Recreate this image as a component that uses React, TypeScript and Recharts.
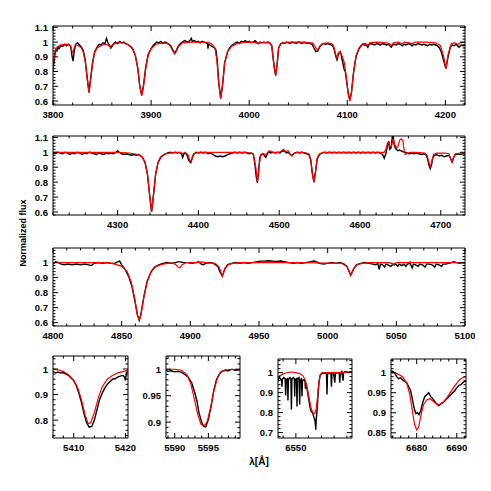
import { LineChart, Line, XAxis, YAxis } from 'recharts';

type Pt = [number, number];

// observed (black) and model (red) spectra, [wavelength, normalized flux]
const P1_OBS: Pt[] = [
  [3800, 0.83], [3801, 0.86], [3802, 0.92], [3803, 0.95], [3804, 0.94], [3805, 0.965], [3806, 0.955], [3808, 0.975],
  [3810, 0.97], [3812, 0.985], [3814, 0.975], [3816, 0.985], [3818, 0.97], [3819.5, 0.9], [3820.4, 0.87], [3821.5, 0.93],
  [3823, 0.985], [3825, 0.995], [3827, 0.98], [3829, 0.965], [3831, 0.94], [3833, 0.87], [3835, 0.75], [3836.7, 0.66],
  [3838.3, 0.75], [3840.5, 0.87], [3842.5, 0.935], [3845, 0.965], [3847, 0.985], [3849, 0.98], [3851, 0.995], [3853, 0.99],
  [3854.5, 1.025], [3856, 0.995], [3858, 0.975], [3859, 0.96], [3860.5, 0.975], [3862, 0.99], [3864, 1.0], [3866, 0.99],
  [3868, 1.005], [3870, 0.995], [3872, 1.0], [3874, 0.99], [3876, 0.985], [3878, 0.975], [3880, 0.965], [3882, 0.945],
  [3884, 0.905], [3886.5, 0.82], [3888.5, 0.7], [3890.4, 0.64], [3892.3, 0.71], [3894.5, 0.83], [3897, 0.915], [3900, 0.955],
  [3902, 0.975], [3904, 0.99], [3906, 1.0], [3908, 0.995], [3910, 1.005], [3912, 0.99], [3914, 1.0], [3916, 0.995],
  [3918, 0.985], [3920, 0.975], [3922.5, 0.94], [3924, 0.925], [3925.5, 0.94], [3928, 0.975], [3930, 0.99], [3932, 1.0],
  [3934, 1.01], [3936, 1.005], [3938, 1.0], [3940, 1.015], [3941, 1.025], [3942, 1.005], [3944, 1.01], [3946, 1.0],
  [3948, 1.005], [3950, 0.995], [3952, 1.005], [3954, 1.0], [3956, 0.995], [3957.5, 0.99], [3958, 0.955], [3958.5, 0.985],
  [3960, 0.98], [3962, 0.97], [3964, 0.965], [3966, 0.95], [3967.5, 0.87], [3969, 0.72], [3971, 0.62], [3973, 0.72],
  [3975, 0.86], [3978, 0.935], [3980, 0.96], [3982, 0.975], [3984, 0.985], [3986, 0.995], [3988, 1.0], [3990, 0.99],
  [3992, 1.005], [3994, 1.0], [3996, 1.01], [3998, 1.0], [4000, 1.005], [4002, 0.995], [4004, 1.0], [4006, 1.01],
  [4008, 0.995], [4009.5, 0.99], [4011, 1.0], [4013, 0.995], [4015, 1.0], [4017, 0.995], [4019, 1.0], [4021, 0.995],
  [4023, 0.975], [4025.5, 0.83], [4027, 0.775], [4028.5, 0.85], [4030, 0.96], [4032, 0.985], [4034, 0.995], [4036, 0.99],
  [4038, 1.0], [4040, 0.995], [4042, 0.99], [4044, 1.0], [4046, 0.995], [4048, 0.99], [4050, 1.0], [4052, 0.995],
  [4054, 0.99], [4056, 1.0], [4058, 0.99], [4060, 0.995], [4062, 0.99], [4064, 0.985], [4066, 0.96], [4068, 0.935],
  [4070, 0.94], [4072, 0.97], [4074, 0.985], [4076, 0.99], [4078, 0.985], [4080, 0.99], [4082, 0.985], [4084, 0.98],
  [4086, 0.965], [4088, 0.91], [4089.5, 0.88], [4091, 0.92], [4093, 0.935], [4095, 0.87], [4097, 0.81], [4098, 0.8],
  [4099, 0.75], [4101, 0.65], [4102.6, 0.605], [4104.3, 0.66], [4106.5, 0.8], [4109, 0.905], [4112, 0.955], [4114, 0.975],
  [4116, 0.985], [4118, 0.98], [4120, 0.975], [4121, 0.965], [4122, 0.98], [4124, 0.99], [4126, 0.985], [4128, 0.98],
  [4130, 0.99], [4132, 0.985], [4134, 0.98], [4136, 0.99], [4138, 0.985], [4140, 0.98], [4142, 0.985], [4144, 0.97],
  [4145, 0.965], [4146, 0.98], [4148, 0.985], [4150, 0.98], [4152, 0.99], [4154, 0.985], [4156, 0.975], [4158, 0.985],
  [4160, 0.98], [4162, 0.99], [4164, 0.985], [4166, 0.975], [4168, 0.985], [4170, 0.98], [4172, 0.99], [4174, 0.985],
  [4176, 0.98], [4178, 0.985], [4180, 0.98], [4182, 0.975], [4184, 0.985], [4186, 0.98], [4188, 0.985], [4190, 0.98],
  [4192, 0.975], [4194, 0.96], [4196, 0.93], [4198, 0.88], [4200.5, 0.82], [4203, 0.91], [4205, 0.965], [4207, 0.98],
  [4209, 0.975], [4211, 0.985], [4213, 0.97], [4214, 0.965], [4216, 0.98], [4218, 0.975], [4220, 0.98],
];

const P1_MOD: Pt[] = [
  [3800, 0.8], [3801, 0.88], [3802, 0.93], [3804, 0.965], [3807, 0.98], [3812, 0.985], [3816, 0.985], [3818, 0.975],
  [3819.5, 0.935], [3820.5, 0.925], [3821.5, 0.96], [3823, 0.98], [3826, 0.975], [3829, 0.96], [3831, 0.93], [3833, 0.86],
  [3835, 0.74], [3836.7, 0.655], [3838.3, 0.74], [3840.5, 0.86], [3842.5, 0.93], [3845, 0.96], [3849, 0.975], [3853, 0.985],
  [3856, 0.98], [3858.5, 0.965], [3861, 0.985], [3866, 0.995], [3872, 0.995], [3877, 0.98], [3881, 0.955], [3884, 0.91],
  [3886.5, 0.82], [3888.5, 0.7], [3890.4, 0.635], [3892.3, 0.7], [3894.5, 0.82], [3897, 0.91], [3900, 0.955], [3905, 0.985],
  [3912, 0.995], [3917, 0.99], [3920, 0.97], [3922.5, 0.935], [3924, 0.92], [3925.5, 0.935], [3928, 0.97], [3932, 0.995],
  [3940, 1.0], [3950, 1.0], [3958, 0.998], [3961, 0.99], [3963, 0.978], [3965, 0.96], [3967, 0.88], [3969, 0.72],
  [3971, 0.615], [3973, 0.72], [3975, 0.86], [3978, 0.935], [3982, 0.97], [3988, 0.99], [3995, 0.998], [4003, 1.0],
  [4007, 0.995], [4009, 0.988], [4011, 0.995], [4020, 0.998], [4023, 0.975], [4025.5, 0.83], [4027, 0.77], [4028.5, 0.85],
  [4030, 0.96], [4032, 0.99], [4040, 1.0], [4055, 1.0], [4065, 0.993], [4068, 0.96], [4070, 0.945], [4072, 0.97],
  [4075, 0.99], [4080, 0.995], [4084, 0.99], [4086, 0.975], [4088, 0.92], [4089.5, 0.89], [4091, 0.93], [4093, 0.93],
  [4095, 0.9], [4097, 0.86], [4099, 0.76], [4101, 0.65], [4102.6, 0.6], [4104.3, 0.66], [4106.5, 0.8], [4109, 0.91],
  [4112, 0.96], [4116, 0.99], [4119, 0.99], [4121, 0.978], [4123, 0.995], [4130, 1.0], [4140, 0.995], [4143, 0.988],
  [4145, 0.978], [4147, 0.995], [4152, 1.0], [4156, 0.988], [4158, 1.0], [4163, 0.995], [4166, 0.988], [4169, 1.0],
  [4180, 1.0], [4190, 0.995], [4195, 0.975], [4198, 0.91], [4200.5, 0.82], [4203, 0.92], [4206, 0.99], [4210, 0.995],
  [4213, 0.982], [4215, 0.995], [4220, 1.0],
];

const P2_OBS: Pt[] = [
  [4220, 0.995], [4223, 0.99], [4226, 1.0], [4229, 0.995], [4232, 0.99], [4235, 1.0], [4238, 0.995], [4241, 0.985],
  [4244, 0.995], [4247, 0.99], [4250, 1.0], [4253, 0.995], [4256, 0.985], [4259, 0.995], [4262, 0.99], [4265, 1.0],
  [4268, 0.995], [4271, 0.99], [4274, 0.985], [4277, 0.995], [4280, 0.99], [4283, 0.985], [4286, 0.995], [4289, 0.99],
  [4292, 0.995], [4295, 0.99], [4298, 1.0], [4300, 1.01], [4302, 1.0], [4305, 0.99], [4308, 0.985], [4311, 0.99],
  [4314, 0.985], [4317, 0.98], [4320, 0.985], [4323, 0.98], [4326, 0.985], [4329, 0.975], [4331, 0.965], [4334, 0.93],
  [4337, 0.85], [4339.5, 0.72], [4342, 0.6], [4344.5, 0.72], [4347, 0.85], [4350, 0.93], [4353, 0.965], [4356, 0.98],
  [4359, 0.99], [4362, 0.995], [4365, 1.0], [4368, 0.995], [4371, 1.0], [4374, 0.995], [4377, 1.0], [4379, 0.99],
  [4380.5, 0.965], [4382, 0.99], [4384, 0.995], [4386, 0.98], [4388, 0.945], [4390.5, 0.93], [4392, 0.955], [4394, 0.985],
  [4397, 1.0], [4400, 0.995], [4403, 1.0], [4406, 0.995], [4409, 1.0], [4412, 0.99], [4415, 0.995], [4418, 0.985],
  [4421, 0.975], [4424, 0.97], [4427, 0.975], [4430, 0.97], [4433, 0.975], [4436, 0.985], [4439, 0.99], [4442, 0.995],
  [4445, 1.0], [4448, 0.995], [4451, 1.0], [4454, 0.995], [4457, 1.0], [4460, 0.995], [4463, 0.99], [4466, 0.995],
  [4468, 0.985], [4470, 0.92], [4471.5, 0.84], [4473, 0.795], [4474.5, 0.87], [4476, 0.965], [4478, 0.985], [4480, 0.99],
  [4482, 0.975], [4483.5, 0.965], [4485, 0.985], [4487, 1.005], [4489, 0.995], [4492, 1.0], [4495, 0.995], [4498, 1.0],
  [4501, 0.995], [4503, 1.005], [4505, 1.01], [4507, 1.005], [4509, 0.995], [4511, 1.0], [4513, 0.99], [4515, 0.98],
  [4517, 0.985], [4519, 0.995], [4522, 1.0], [4525, 0.995], [4528, 1.0], [4531, 0.995], [4534, 0.99], [4537, 0.985],
  [4539, 0.95], [4541, 0.86], [4543, 0.8], [4545, 0.87], [4547, 0.955], [4550, 0.985], [4553, 0.995], [4556, 1.0],
  [4559, 0.995], [4562, 1.0], [4565, 0.995], [4568, 1.0], [4571, 0.995], [4574, 1.0], [4577, 0.995], [4580, 1.0],
  [4583, 0.995], [4586, 1.0], [4589, 0.995], [4592, 1.0], [4595, 0.995], [4598, 1.0], [4601, 0.995], [4604, 1.0],
  [4607, 0.995], [4610, 1.0], [4613, 0.995], [4616, 1.0], [4619, 0.995], [4622, 1.0], [4625, 0.995], [4628, 0.985],
  [4630, 0.96], [4632, 0.99], [4634, 1.04], [4635.5, 1.075], [4637, 1.02], [4638.5, 1.03], [4640, 1.1], [4641, 1.12],
  [4642, 1.06], [4643.5, 1.03], [4645, 1.02], [4647, 1.01], [4649, 1.015], [4651, 1.01], [4653, 1.005], [4655, 1.0],
  [4658, 0.995], [4661, 0.99], [4664, 0.995], [4667, 0.99], [4670, 0.995], [4673, 0.99], [4676, 0.985], [4679, 0.99],
  [4682, 0.98], [4684, 0.95], [4685.5, 0.91], [4687, 0.89], [4688.5, 0.915], [4690, 0.96], [4692, 0.98], [4695, 0.985],
  [4698, 0.975], [4701, 0.98], [4704, 0.97], [4707, 0.975], [4710, 0.98], [4712, 0.96], [4714, 0.935], [4716, 0.965],
  [4718, 0.985], [4721, 0.99], [4724, 0.985], [4727, 0.99], [4730, 0.99],
];

const P2_MOD: Pt[] = [
  [4220, 1.0], [4260, 1.0], [4300, 1.0], [4315, 0.995], [4325, 0.985], [4330, 0.97], [4334, 0.93], [4337, 0.85],
  [4339.5, 0.72], [4342, 0.6], [4344.5, 0.72], [4347, 0.85], [4350, 0.93], [4354, 0.97], [4360, 0.99], [4368, 0.998],
  [4375, 1.0], [4379, 0.995], [4381, 0.99], [4383, 1.0], [4387, 0.985], [4389, 0.95], [4390.5, 0.94], [4392, 0.96],
  [4394, 0.99], [4400, 1.0], [4420, 1.0], [4440, 1.0], [4460, 1.0], [4468, 0.99], [4471, 0.9], [4473, 0.8],
  [4475, 0.9], [4477, 0.985], [4481, 0.99], [4483, 0.98], [4485, 0.995], [4488, 1.01], [4492, 1.0], [4500, 1.0],
  [4503, 1.01], [4505, 1.02], [4508, 1.005], [4511, 1.01], [4514, 0.985], [4516, 0.975], [4518, 0.99], [4522, 1.0],
  [4530, 1.0], [4536, 0.99], [4539, 0.95], [4541, 0.86], [4543, 0.8], [4545, 0.87], [4547, 0.96], [4550, 0.99],
  [4555, 1.0], [4600, 1.0], [4625, 1.0], [4630, 1.0], [4632, 1.02], [4634, 1.06], [4635.5, 1.07], [4637, 1.04],
  [4639, 1.04], [4641, 1.09], [4643, 1.05], [4645, 1.03], [4647, 1.04], [4649, 1.08], [4651, 1.09], [4653, 1.08],
  [4654.5, 1.02], [4656, 0.985], [4658, 0.99], [4662, 1.0], [4670, 1.0], [4680, 0.995], [4683, 0.98], [4685, 0.94],
  [4687, 0.9], [4689, 0.94], [4691, 0.985], [4695, 0.995], [4705, 0.995], [4710, 0.99], [4712, 0.96], [4714, 0.935],
  [4716, 0.965], [4718, 0.99], [4725, 0.995], [4730, 0.995],
];

const P3_OBS: Pt[] = [
  [4800, 0.99], [4802, 1.005], [4804, 1.0], [4806, 0.99], [4808, 0.985], [4811, 0.99], [4814, 0.985], [4817, 0.99],
  [4820, 0.985], [4823, 0.99], [4826, 0.985], [4828, 0.98], [4830, 0.995], [4833, 1.0], [4836, 0.995], [4839, 1.0],
  [4842, 0.995], [4845, 0.995], [4847, 1.005], [4848.5, 1.01], [4850, 0.985], [4852.5, 0.955], [4855, 0.91], [4857.5, 0.84],
  [4859.5, 0.75], [4861.5, 0.65], [4862.8, 0.615], [4864, 0.655], [4866, 0.765], [4868.5, 0.875], [4871.5, 0.94], [4874, 0.97],
  [4877, 0.985], [4880, 0.995], [4883, 1.0], [4886, 0.995], [4889, 1.0], [4891, 1.005], [4893, 1.005], [4895, 1.0],
  [4898, 1.0], [4901, 0.995], [4904, 1.0], [4906, 1.005], [4908, 0.99], [4909.5, 0.985], [4911, 0.995], [4914, 1.0],
  [4917, 0.995], [4920, 0.975], [4921.5, 0.94], [4923.3, 0.91], [4925, 0.955], [4927, 0.985], [4930, 0.995], [4933, 1.0],
  [4936, 0.995], [4939, 1.0], [4942, 0.995], [4945, 1.0], [4948, 1.005], [4951, 1.01], [4954, 1.01], [4957, 1.012],
  [4960, 1.01], [4963, 1.008], [4966, 1.01], [4969, 1.005], [4972, 1.0], [4975, 0.995], [4978, 1.0], [4981, 0.995],
  [4984, 1.0], [4987, 1.005], [4990, 1.01], [4992, 1.005], [4994, 0.995], [4997, 0.99], [5000, 0.995], [5003, 1.0],
  [5006, 0.995], [5009, 1.0], [5012, 0.99], [5014, 0.975], [5016.8, 0.915], [5019, 0.96], [5021, 0.985], [5024, 0.995],
  [5027, 1.0], [5030, 0.995], [5033, 0.99], [5035, 0.985], [5036.5, 0.995], [5037.5, 0.955], [5038.5, 0.99], [5040, 0.985],
  [5041.5, 0.97], [5042.5, 0.99], [5044, 0.985], [5046, 0.975], [5047, 0.985], [5048.5, 0.985], [5049.5, 0.99], [5051, 0.975],
  [5052, 0.99], [5054, 0.98], [5055.5, 0.99], [5057, 0.975], [5058, 0.99], [5060, 0.995], [5061.5, 0.965], [5062.5, 0.99],
  [5064, 0.985], [5066, 0.975], [5067, 0.99], [5069, 0.985], [5071, 0.97], [5072, 0.99], [5074, 0.99], [5076, 0.985],
  [5078, 0.97], [5079, 0.99], [5081, 0.985], [5083, 0.975], [5084, 0.99], [5086, 0.99], [5088, 0.995], [5090, 1.0],
  [5092, 1.005], [5094, 1.0], [5096, 0.995], [5098, 1.0], [5100, 0.995],
];

const P3_MOD: Pt[] = [
  [4800, 1.0], [4840, 1.0], [4845, 0.99], [4850, 0.975], [4854, 0.94], [4857, 0.87], [4859.5, 0.76], [4861.5, 0.65],
  [4862.8, 0.615], [4864, 0.65], [4866, 0.76], [4868.5, 0.87], [4871.5, 0.94], [4875, 0.975], [4880, 0.99], [4886, 0.998],
  [4889, 0.99], [4891, 0.97], [4892.5, 0.965], [4894, 0.985], [4897, 1.0], [4905, 1.0], [4908, 1.005], [4911, 1.0],
  [4918, 0.995], [4921, 0.97], [4923.3, 0.91], [4925.5, 0.965], [4928, 0.99], [4935, 1.0], [4980, 1.0], [5010, 0.995],
  [5014, 0.975], [5016.8, 0.915], [5019, 0.96], [5022, 0.99], [5030, 1.0], [5045, 1.0], [5048, 0.99], [5050, 1.0],
  [5058, 1.0], [5060, 1.005], [5062, 1.0], [5100, 1.0],
];

// HeII 5411
const A_OBS: Pt[] = [
  [5406, 0.99], [5406.5, 0.985], [5407, 0.988], [5407.5, 0.984], [5408, 0.986], [5408.5, 0.98], [5409, 0.975], [5409.5, 0.965],
  [5410, 0.955], [5410.5, 0.935], [5411, 0.905], [5411.5, 0.87], [5412, 0.825], [5412.5, 0.79], [5413, 0.772], [5413.5, 0.775],
  [5414, 0.8], [5414.5, 0.84], [5415, 0.88], [5415.5, 0.905], [5416, 0.925], [5416.5, 0.94], [5417, 0.95], [5417.5, 0.96],
  [5418, 0.962], [5418.5, 0.968], [5419, 0.972], [5419.5, 0.975], [5419.8, 0.97], [5420, 0.955], [5420.2, 0.985], [5420.5, 0.995],
];
const A_MOD: Pt[] = [
  [5406, 1.0], [5407, 0.997], [5408, 0.99], [5409, 0.978], [5410, 0.955], [5410.8, 0.925], [5411.5, 0.88], [5412.2, 0.82],
  [5412.8, 0.786], [5413.3, 0.79], [5414, 0.83], [5414.8, 0.89], [5415.5, 0.93], [5416.5, 0.96], [5417.5, 0.975], [5418.5, 0.985],
  [5419.5, 0.99], [5420.5, 0.995],
];

// OIII 5592
const B_OBS: Pt[] = [
  [5588.7, 0.998], [5589, 0.996], [5589.5, 0.997], [5590, 0.995], [5590.5, 0.996], [5591, 0.994], [5591.5, 0.99], [5592, 0.985],
  [5592.5, 0.975], [5593, 0.955], [5593.3, 0.94], [5593.6, 0.918], [5594, 0.9], [5594.3, 0.892], [5594.6, 0.891], [5595, 0.905],
  [5595.4, 0.93], [5595.8, 0.96], [5596.2, 0.98], [5596.6, 0.99], [5597, 0.996], [5597.5, 0.998], [5598, 0.997], [5598.5, 1.0],
  [5599, 0.998], [5599.7, 0.999],
];
const B_MOD: Pt[] = [
  [5588.7, 1.0], [5590, 1.0], [5591, 0.998], [5591.8, 0.99], [5592.4, 0.972], [5592.9, 0.945], [5593.4, 0.915], [5593.9, 0.896],
  [5594.3, 0.892], [5594.8, 0.9], [5595.3, 0.925], [5595.8, 0.958], [5596.3, 0.982], [5596.8, 0.995], [5597.5, 0.999], [5599.7, 1.0],
];

// H alpha with telluric lines
const C_OBS: Pt[] = [
  [6536, 0.965], [6537, 0.975], [6538, 0.97], [6538.8, 0.96], [6539.1, 0.93], [6539.4, 0.965], [6540.5, 0.975], [6541.6, 0.97],
  [6542, 0.885], [6542.4, 0.965], [6543.4, 0.97], [6543.8, 0.86], [6544.2, 0.965], [6545.3, 0.975], [6546.1, 0.97], [6546.5, 0.815],
  [6546.9, 0.965], [6548, 0.975], [6548.8, 0.97], [6549.1, 0.88], [6549.4, 0.965], [6550.5, 0.97], [6550.9, 0.83], [6551.3, 0.97],
  [6552.5, 0.975], [6553, 0.84], [6553.4, 0.965], [6554.4, 0.97], [6554.8, 0.88], [6555.2, 0.96], [6556.5, 0.965], [6557.2, 0.955],
  [6557.5, 0.92], [6557.9, 0.95], [6559, 0.91], [6560, 0.87], [6561, 0.83], [6562, 0.805], [6563, 0.8], [6563.8, 0.785],
  [6564.5, 0.77], [6565, 0.76], [6565.4, 0.735], [6565.6, 0.715], [6565.9, 0.76], [6566.5, 0.8], [6567, 0.85], [6567.6, 0.91],
  [6568.2, 0.955], [6569, 0.985], [6570, 0.995], [6571, 1.0], [6572, 0.995], [6573, 1.0], [6574, 0.995], [6574.4, 0.89],
  [6574.8, 0.99], [6576, 1.0], [6577.5, 0.995], [6577.9, 0.93], [6578.3, 0.995], [6579.5, 1.0], [6580.5, 0.95], [6581, 0.995],
  [6582.5, 1.0], [6584, 0.998], [6584.4, 0.95], [6584.8, 0.995], [6586, 1.005], [6587, 0.96], [6587.4, 1.0], [6589, 1.005],
  [6591, 1.0], [6592.5, 1.005], [6594, 1.005],
];
const C_MOD: Pt[] = [
  [6536, 0.98], [6539, 0.99], [6542, 0.998], [6546, 1.003], [6550, 1.0], [6553, 0.995], [6555.5, 0.985], [6557.5, 0.96],
  [6559, 0.92], [6560.5, 0.87], [6562, 0.82], [6563.3, 0.8], [6564.8, 0.795], [6566, 0.82], [6567, 0.88], [6568, 0.95],
  [6569, 0.985], [6570.5, 0.998], [6574, 1.0], [6580, 1.0], [6594, 1.002],
];

// HeI 6678 + HeII 6683
const D_OBS: Pt[] = [
  [6673.6, 1.005], [6674, 1.003], [6674.5, 1.0], [6675, 0.99], [6675.5, 0.985], [6676, 0.987], [6676.5, 0.982], [6677, 0.978],
  [6677.5, 0.975], [6678, 0.965], [6678.5, 0.955], [6679, 0.93], [6679.4, 0.91], [6679.8, 0.898], [6680.2, 0.9], [6680.6, 0.895],
  [6681, 0.905], [6681.5, 0.925], [6682, 0.94], [6682.5, 0.945], [6683, 0.95], [6683.5, 0.94], [6684, 0.935], [6684.5, 0.928],
  [6685, 0.922], [6685.5, 0.918], [6686, 0.922], [6686.5, 0.925], [6687, 0.93], [6687.5, 0.935], [6688, 0.94], [6688.5, 0.945],
  [6689, 0.95], [6689.5, 0.955], [6690, 0.962], [6690.5, 0.968], [6691, 0.97], [6691.5, 0.975], [6692, 0.978], [6692.3, 0.98],
];
const D_MOD: Pt[] = [
  [6673.6, 1.0], [6675, 0.998], [6676.5, 0.99], [6677.5, 0.975], [6678.3, 0.945], [6679, 0.9], [6679.5, 0.87], [6680, 0.857],
  [6680.5, 0.865], [6681, 0.89], [6681.7, 0.92], [6682.5, 0.932], [6683.3, 0.935], [6684.2, 0.928], [6685, 0.921], [6685.6, 0.92],
  [6686.5, 0.925], [6687.5, 0.937], [6688.5, 0.952], [6689.5, 0.967], [6690.5, 0.98], [6691.5, 0.988], [6692.3, 0.99],
];

const FONT = '"Liberation Sans", Arial, Helvetica, sans-serif';
// plot area offsets inside each chart svg
const ML = 50, MR = 10, MT = 6, MB = 22;

const toRows = (pts: Pt[]) => pts.map(([w, f]) => ({ w, f }));

// major + minor tick values inside [lo, hi]
function tickValues(lo: number, hi: number, step: number) {
  const out: number[] = [];
  for (let k = Math.ceil(lo / step - 1e-9); k * step <= hi + 1e-9; k++) out.push(+(k * step).toFixed(5));
  return out;
}
const isMajor = (v: number, step: number) => Math.abs(v / step - Math.round(v / step)) < 1e-6;
const fmt = (v: number) => String(+v.toFixed(3));

function makeTick(side: 'bottom' | 'top' | 'left' | 'right', major: number, label: boolean) {
  return (p: any) => {
    const { x, y, payload } = p;
    const v = payload.value;
    const big = isMajor(v, major);
    const len = big ? 5 : 2.5;
    let ln;
    if (side === 'bottom') ln = <line x1={x} y1={y} x2={x} y2={y - len} stroke="#000" strokeWidth={1} />;
    else if (side === 'top') ln = <line x1={x} y1={y} x2={x} y2={y + len} stroke="#000" strokeWidth={1} />;
    else if (side === 'left') ln = <line x1={x} y1={y} x2={x + len} y2={y} stroke="#000" strokeWidth={1} />;
    else ln = <line x1={x} y1={y} x2={x - len} y2={y} stroke="#000" strokeWidth={1} />;
    let txt = null;
    if (label && big) {
      txt = side === 'bottom'
        ? <text x={x} y={y + 12.5} textAnchor="middle" fontSize={9.5} fontWeight="bold" fontFamily={FONT} fill="#000">{fmt(v)}</text>
        : <text x={x - 5} y={y + 3.5} textAnchor="end" fontSize={9.5} fontWeight="bold" fontFamily={FONT} fill="#000">{fmt(v)}</text>;
    }
    return <g>{ln}{txt}</g>;
  };
}

interface PanelProps {
  left: number; top: number; w: number; h: number;
  xd: [number, number]; yd: [number, number];
  xs: [number, number]; ys: [number, number];
  obs: Pt[]; mod: Pt[];
}

function Panel({ left, top, w, h, xd, yd, xs, ys, obs, mod }: PanelProps) {
  const xt = tickValues(xd[0], xd[1], xs[1]);
  const yt = tickValues(yd[0], yd[1], ys[1]);
  const ax = { stroke: '#000', strokeWidth: 1 };
  return (
    <div style={{ position: 'absolute', left: left - ML, top: top - MT }}>
      <LineChart width={w + ML + MR} height={h + MT + MB} margin={{ top: MT - 1, right: MR - 1, bottom: 0, left: 5 }}
        style={{ overflow: 'visible' }}>
        <XAxis xAxisId="b" dataKey="w" type="number" domain={xd} allowDataOverflow ticks={xt} interval={0}
          height={MB} tickSize={0} tickMargin={0} tickLine={false} axisLine={ax} tick={makeTick('bottom', xs[0], true)} />
        <XAxis xAxisId="t" orientation="top" dataKey="w" type="number" domain={xd} allowDataOverflow ticks={xt} interval={0}
          height={1} tickSize={0} tickMargin={0} tickLine={false} axisLine={ax} tick={makeTick('top', xs[0], false)} />
        <YAxis yAxisId="l" type="number" domain={yd} allowDataOverflow ticks={yt} interval={0}
          width={ML - 5} tickSize={0} tickMargin={0} tickLine={false} axisLine={ax} tick={makeTick('left', ys[0], true)} />
        <YAxis yAxisId="r" orientation="right" type="number" domain={yd} allowDataOverflow ticks={yt} interval={0}
          width={1} tickSize={0} tickMargin={0} tickLine={false} axisLine={ax} tick={makeTick('right', ys[0], false)} />
        <Line xAxisId="b" yAxisId="l" data={toRows(obs)} dataKey="f" type="linear" stroke="#000" strokeWidth={1.4}
          dot={false} isAnimationActive={false} />
        <Line xAxisId="b" yAxisId="l" data={toRows(mod)} dataKey="f" type="linear" stroke="#ff0000" strokeWidth={1.2}
          dot={false} isAnimationActive={false} />
      </LineChart>
    </div>
  );
}

export default function App() {
  return (
    <div style={{ position: 'absolute', left: 0, top: 0, width: 491, height: 491, background: '#fff', overflow: 'hidden' }}>
      <Panel left={53} top={26} w={412} h={79} xd={[3800, 4220]} yd={[0.573, 1.109]} xs={[100, 20]} ys={[0.1, 0.02]} obs={P1_OBS} mod={P1_MOD} />
      <Panel left={53} top={136} w={412} h={79} xd={[4220, 4730]} yd={[0.58, 1.109]} xs={[100, 20]} ys={[0.1, 0.02]} obs={P2_OBS} mod={P2_MOD} />
      <Panel left={53} top={248} w={412} h={78} xd={[4800, 5100]} yd={[0.578, 1.097]} xs={[50, 10]} ys={[0.1, 0.02]} obs={P3_OBS} mod={P3_MOD} />
      <Panel left={53} top={356} w={75} h={82} xd={[5406, 5420.5]} yd={[0.73, 1.051]} xs={[10, 2]} ys={[0.1, 0.02]} obs={A_OBS} mod={A_MOD} />
      <Panel left={166} top={356} w={74} h={82} xd={[5588.7, 5599.7]} yd={[0.87, 1.025]} xs={[5, 1]} ys={[0.05, 0.01]} obs={B_OBS} mod={B_MOD} />
      <Panel left={278} top={359} w={74} h={79} xd={[6536, 6594]} yd={[0.673, 1.068]} xs={[50, 10]} ys={[0.1, 0.02]} obs={C_OBS} mod={C_MOD} />
      <Panel left={391} top={359} w={75} h={79} xd={[6673.6, 6692.3]} yd={[0.837, 1.034]} xs={[10, 2]} ys={[0.05, 0.01]} obs={D_OBS} mod={D_MOD} />
      <div style={{ position: 'absolute', left: 23, top: 233, transform: 'translate(-50%, -50%) rotate(-90deg)', whiteSpace: 'nowrap',
        fontFamily: FONT, fontWeight: 'bold', fontSize: 9, color: '#000' }}>Normalized flux</div>
      <div style={{ position: 'absolute', left: 259, top: 461, transform: 'translate(-50%, -50%)', whiteSpace: 'nowrap',
        fontFamily: FONT, fontWeight: 'bold', fontSize: 10, color: '#000' }}>λ[Å]</div>
    </div>
  );
}
